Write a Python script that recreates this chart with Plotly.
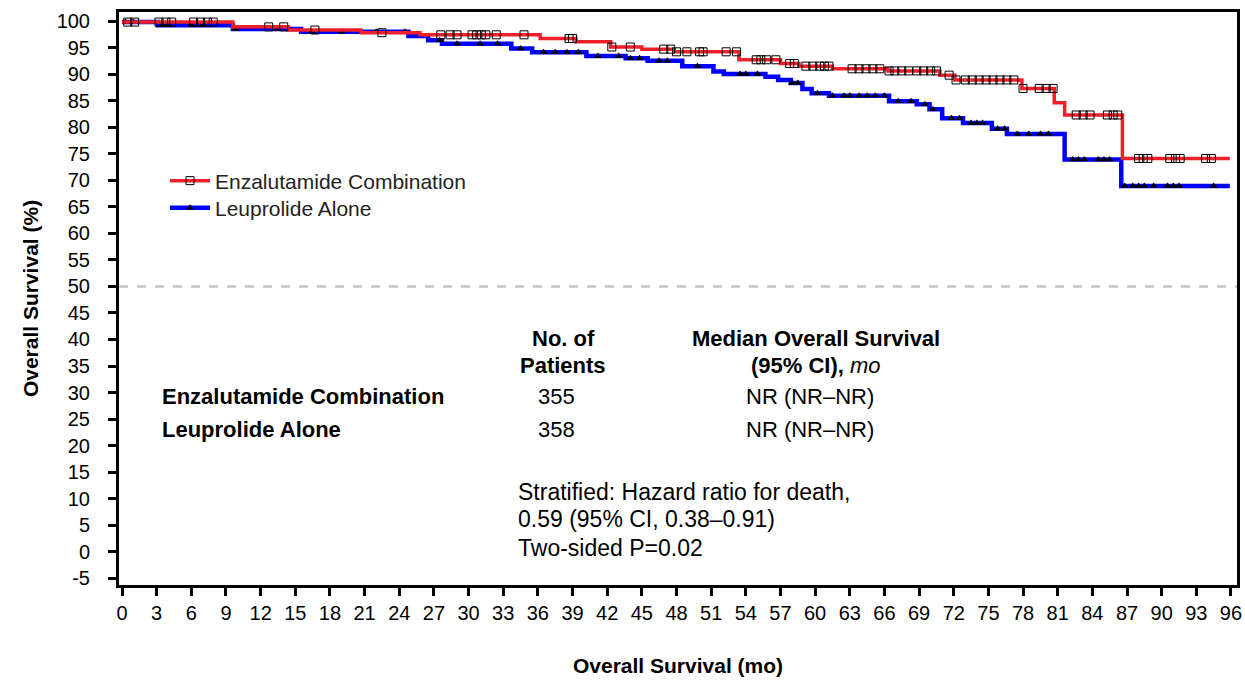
import numpy as np
import plotly.graph_objects as go

# ---------------- data ----------------
enza_time = [0, 9.6, 14.4, 20.7, 25.8, 36.2, 39.3, 42.3, 45.0, 47.8, 53.4, 57.0, 58.6,
             61.5, 66.3, 70.8, 72.1, 77.9, 80.7, 81.6, 86.6, 95.9]
enza_surv = [99.8, 98.9, 98.3, 97.8, 97.4, 96.7, 96.1, 95.1, 94.7, 94.2, 92.7, 92.0, 91.5,
             91.0, 90.6, 89.8, 88.9, 87.3, 84.6, 82.3, 74.1, 74.1]
enza_censor = [0.5, 1.1, 3.2, 3.8, 4.3, 6.2, 6.8, 7.4, 7.9, 12.7, 14.0, 16.7, 22.5,
               27.6, 28.4, 29.0, 30.3, 30.7, 31.1, 31.5, 32.4, 34.8, 38.7, 39.0, 42.4, 44.0,
               46.9, 47.5, 48.0, 48.9, 50.0, 50.3, 52.3, 53.2, 54.9, 55.3, 55.8, 56.6,
               57.8, 58.2, 59.2, 59.8, 60.4, 60.8, 61.2, 63.2, 63.8, 64.4, 65.0, 65.6, 66.4,
               66.9, 67.5, 68.1, 68.8, 69.4, 70.0, 70.5, 71.6, 72.2, 73.0, 73.6, 74.2,
               74.8, 75.4, 76.0, 76.6, 77.2, 78.0, 79.4, 80.0, 80.6, 82.6, 83.2, 83.8,
               85.3, 85.8, 86.2, 88.0, 88.4, 88.8, 90.7, 91.2, 91.6, 93.8, 94.3]

leup_time = [0, 3.1, 9.6, 15.5, 24.8, 26.5, 27.7, 33.7, 35.5, 40.2, 43.6, 45.5, 48.5,
             51.2, 52.1, 55.7, 56.8, 57.9, 58.9, 59.7, 61.2, 66.4, 68.8, 69.9, 71.0, 72.8,
             75.3, 76.6, 81.6, 86.5, 95.9]
leup_surv = [99.8, 99.2, 98.5, 98.0, 97.2, 96.4, 95.7, 94.8, 94.1, 93.4, 93.0, 92.5, 91.5,
             90.5, 90.0, 89.5, 88.9, 88.3, 87.2, 86.4, 85.9, 84.9, 84.3, 83.4, 81.7, 80.8,
             79.7, 78.7, 73.9, 68.9, 68.9]
leup_censor = [0.3, 1.0, 3.5, 4.0, 6.0, 7.0, 9.8, 13.5, 16.5, 19.0, 22.0, 24.5, 27.5,
               29.0, 31.0, 32.5, 34.5, 36.5, 37.5, 38.5, 39.5, 41.2, 43.0, 44.0, 44.8,
               46.5, 47.2, 49.8, 53.5, 54.0, 55.0, 58.0, 58.5, 60.2, 61.5, 62.5, 63.0,
               63.8, 64.5, 65.2, 66.0, 67.2, 68.3, 69.5, 70.2, 71.8, 72.5, 73.5, 74.0,
               74.5, 75.8, 76.4, 77.5, 78.5, 79.5, 80.2, 82.3, 82.8, 83.3, 84.5, 85.0,
               85.5, 86.8, 87.5, 88.0, 88.5, 89.3, 90.5, 91.0, 91.5, 94.5]

arm_names = ["Enzalutamide Combination", "Leuprolide Alone"]
n_patients = [355, 358]
median_os = ["NR (NR\u2013NR)", "NR (NR\u2013NR)"]
stats_lines = ["Stratified: Hazard ratio for death,",
               "0.59 (95% CI, 0.38\u20130.91)",
               "Two-sided P=0.02"]

x_ticks = list(range(0, 97, 3))
y_ticks = list(range(-5, 101, 5))

# ---------------- layout geometry ----------------
W, H = 1245, 680
L, R, T, B = 119, 8, 12, 95
PW, PH = W - L - R, H - T - B


def px(sx):
    return (sx - L) / PW


def py(sy):
    return (H - B - sy) / PH


def step_at(times, surv, t):
    i = np.searchsorted(np.asarray(times), np.asarray(t), side="right") - 1
    return np.asarray(surv)[i]


RED = "#f0202a"
BLUE = "#0000ff"
FONT = "Liberation Sans, Arial, sans-serif"

fig = go.Figure()

fig.add_trace(go.Scatter(x=leup_time, y=leup_surv, mode="lines", line=dict(color=BLUE, width=4.5, shape="hv"),
                         showlegend=False, hoverinfo="skip"))
fig.add_trace(go.Scatter(x=leup_censor, y=step_at(leup_time, leup_surv, leup_censor), mode="markers",
                         marker=dict(symbol="triangle-up", size=7, color="black"),
                         showlegend=False, hoverinfo="skip"))
fig.add_trace(go.Scatter(x=enza_time, y=enza_surv, mode="lines", line=dict(color=RED, width=3.5, shape="hv"),
                         showlegend=False, hoverinfo="skip"))
fig.add_trace(go.Scatter(x=enza_censor, y=step_at(enza_time, enza_surv, enza_censor), mode="markers",
                         marker=dict(symbol="square-open", size=8, color="black", line=dict(width=1)),
                         showlegend=False, hoverinfo="skip"))

fig.add_trace(go.Scatter(x=[None], y=[None], mode="lines+markers", name=arm_names[0], legend="legend",
                         line=dict(color=RED, width=3.5),
                         marker=dict(symbol="square-open", size=8, color="black", line=dict(width=1))))
fig.add_trace(go.Scatter(x=[None], y=[None], mode="lines+markers", name=arm_names[1], legend="legend2",
                         line=dict(color=BLUE, width=4.5),
                         marker=dict(symbol="triangle-up", size=7, color="black")))

fig.add_shape(type="line", xref="paper", x0=0, x1=1, yref="y", y0=50, y1=50,
              line=dict(color="#c4c4c4", width=2.5, dash="dash"), layer="below")

ann = []
def add_text(text, x, y, xanchor="center", size=22):
    ann.append(dict(text=text, x=px(x), y=py(y), xref="paper", yref="paper", showarrow=False,
                    xanchor=xanchor, yanchor="middle", font=dict(size=size, color="black", family=FONT)))

add_text("<b>No. of</b>", 563, 338)
add_text("<b>Patients</b>", 563, 365)
add_text("<b>Median Overall Survival</b>", 816, 338)
add_text("<b>(95% CI),</b> <i>mo</i>", 816, 365)
row_y = [396, 430]
for name, n, med, yy in zip(arm_names, n_patients, median_os, row_y):
    add_text("<b>" + name + "</b>", 160, yy, xanchor="left")
    add_text(str(n), 556, yy)
    add_text(med, 810, yy)
for line, yy in zip(stats_lines, [492, 519, 548]):
    add_text(line, 516, yy, xanchor="left", size=23)

leg_common = dict(xanchor="left", yanchor="middle", bgcolor="rgba(0,0,0,0)",
                  font=dict(size=21, family=FONT, color="#222"), itemwidth=40)
fig.update_layout(
    width=W, height=H,
    margin=dict(l=L, r=R, t=T, b=B),
    paper_bgcolor="white", plot_bgcolor="white",
    font=dict(family=FONT, color="black"),
    annotations=ann,
    legend=dict(x=px(165), y=py(181), **leg_common),
    legend2=dict(x=px(165), y=py(208), **leg_common),
)
fig.update_xaxes(range=[-0.26, 96.52], tickmode="array", tickvals=x_ticks,
                 ticktext=[str(v) for v in x_ticks],
                 showline=True, linecolor="black", linewidth=3, mirror=True,
                 ticks="outside", ticklen=8, tickwidth=3, tickcolor="black",
                 showgrid=False, zeroline=False, automargin=False,
                 tickfont=dict(size=20, family=FONT),
                 title=dict(text="<b>Overall Survival (mo)</b>", font=dict(size=21, family=FONT), standoff=36))
fig.update_yaxes(range=[-6.26, 101.7], tickmode="array", tickvals=y_ticks,
                 ticktext=[str(v) for v in y_ticks],
                 showline=True, linecolor="black", linewidth=3, mirror=True,
                 ticks="outside", ticklen=8, tickwidth=3, tickcolor="black",
                 showgrid=False, zeroline=False, automargin=False,
                 tickfont=dict(size=20, family=FONT), ticklabelstandoff=14,
                 title=dict(text="<b>Overall Survival (%)</b>", font=dict(size=21, family=FONT), standoff=13))

# remove the default 8px page margin so the figure sits at the top-left corner
fig.write_html("out.html", config={"displayModeBar": False},
               post_script="document.body.style.margin='0';")
